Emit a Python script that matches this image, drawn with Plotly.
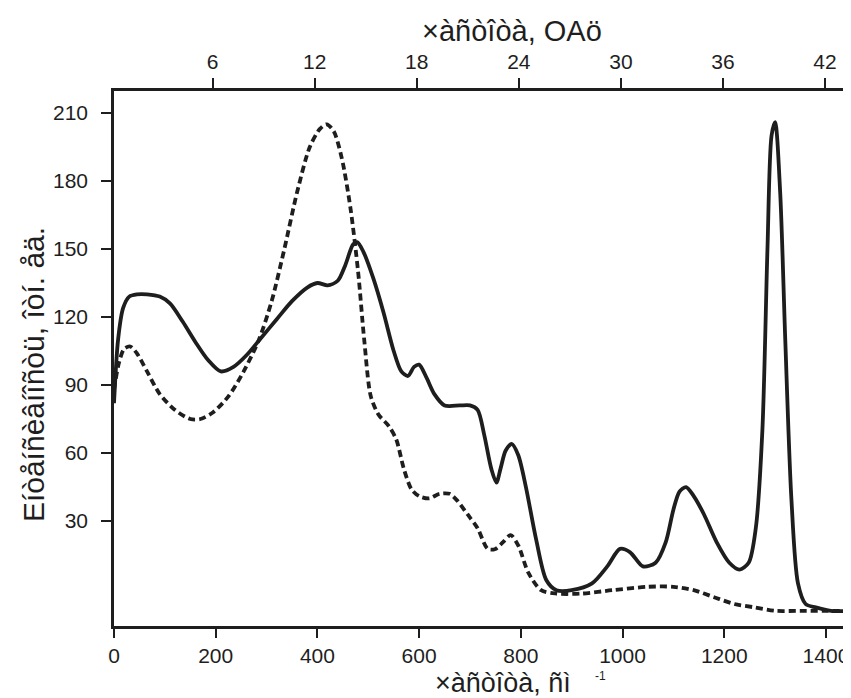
import plotly.graph_objects as go

# Wavenumber (cm^-1) and intensity samples for the solid curve
solid_x = [0, 8, 18, 30, 45, 65, 90, 110, 135, 160, 185, 210, 235, 260, 290, 320, 350, 380,
           400, 420, 440, 455, 470, 478, 490, 510, 530, 550, 565, 578, 590, 600, 615, 630,
           650, 680, 700, 715, 728, 742, 752, 760, 770, 782, 795, 810, 830, 850, 870, 900,
           940, 970, 995, 1015, 1040, 1065, 1085, 1100, 1112, 1125, 1140, 1160, 1185, 1210,
           1230, 1248, 1262, 1275, 1285, 1293, 1300, 1310, 1320, 1332, 1345, 1360, 1380, 1410, 1465]
solid_y = [82, 110, 124, 129, 130, 130, 129, 126, 118, 109, 101, 96, 98, 103, 111, 119, 127, 133,
           135, 134, 136, 143, 152, 153, 149, 137, 122, 105, 96, 94, 98, 99, 93, 86,
           81, 81, 81, 79, 68, 53, 47, 53, 61, 64, 59, 45, 22, 4, -0.5, -0.5,
           2.5, 10, 17.7, 16.2, 10, 11.6, 20.7, 35, 43, 45, 41, 33, 20.7, 11.6,
           8.6, 11.6, 26.8, 70, 150, 200, 206, 175, 110, 40, 2.5, -6.6, -8.1, -9.6, -9.6]

# Wavenumber (cm^-1) and intensity samples for the dashed curve
dashed_x = [0, 10, 20, 32, 45, 65, 90, 120, 150, 170, 195, 225, 255, 285, 310, 335, 360, 385,
            405, 418, 432, 448, 465, 480, 492, 505, 520, 540, 555, 570, 585, 600, 620, 640, 660,
            675, 695, 715, 735, 750, 765, 780, 795, 815, 840, 870, 920, 980, 1050, 1100, 1140,
            1180, 1220, 1260, 1300, 1350, 1400, 1465]
dashed_y = [88, 100, 106, 107, 104, 96, 86, 79, 75, 75, 78, 85, 96, 110, 127, 150, 175, 195,
            203, 205, 202, 190, 168, 140, 110, 85, 77, 72, 66, 53, 44, 41, 40, 42, 42,
            39, 33, 26.8, 17.7, 17.7, 20.7, 23.8, 19.2, 7.1, -0.5, -2, -2, -0.5, 1, 1, -0.5,
            -3.6, -6.6, -8.1, -9.6, -9.6, -9.6, -9.6]

x_ticks = [0, 200, 400, 600, 800, 1000, 1200, 1400]
thz_ticks = [6, 12, 18, 24, 30, 36, 42]
y_ticks = [30, 60, 90, 120, 150, 180, 210]

X_RANGE = [0, 1465]
THZ_RANGE = [0.2, 44.0]
Y_RANGE = [-16.3, 219.7]

ink = "#1e1e1e"
fig = go.Figure()
fig.add_trace(go.Scatter(x=solid_x, y=solid_y, mode="lines",
                         line=dict(color=ink, width=3.8, shape="spline", smoothing=0.8),
                         showlegend=False, hoverinfo="skip"))
fig.add_trace(go.Scatter(x=dashed_x, y=dashed_y, mode="lines",
                         line=dict(color=ink, width=3.8, dash="7px,4px", shape="spline", smoothing=0.8),
                         showlegend=False, hoverinfo="skip"))
# invisible trace anchoring the top THz axis
fig.add_trace(go.Scatter(x=THZ_RANGE, y=[None, None], xaxis="x2", mode="lines",
                         showlegend=False, hoverinfo="skip"))

font_main = "Liberation Sans, Arial, sans-serif"
axis_common = dict(ticks="outside", tickwidth=2, tickcolor=ink,
                   showline=True, linecolor=ink, linewidth=2.5,
                   showgrid=False, zeroline=False, tickfont=dict(size=21, color=ink))

fig.update_layout(
    width=851, height=698,
    margin=dict(l=106, r=0, t=83, b=80),
    paper_bgcolor="white", plot_bgcolor="white",
    font=dict(family=font_main, color=ink, size=21),
    xaxis=dict(range=X_RANGE, tickvals=x_ticks, ticktext=[str(v) for v in x_ticks],
               ticklen=9, ticklabelstandoff=0, **axis_common),
    xaxis2=dict(overlaying="x", side="top", range=THZ_RANGE,
                tickvals=thz_ticks, ticktext=[str(v) for v in thz_ticks],
                ticklen=10, ticklabelstandoff=1, **axis_common),
    yaxis=dict(range=Y_RANGE, tickvals=y_ticks, ticktext=[str(v) for v in y_ticks],
               ticklen=10, ticklabelstandoff=9, **axis_common),
    annotations=[
        dict(text="×àñòîòà, OAö", xref="paper", yref="paper", x=0.534, y=1.112,
             xanchor="center", yanchor="middle", showarrow=False, font=dict(size=29)),
        dict(text="×àñòîòà, ñì", xref="paper", yref="paper", x=0.522, y=-0.106,
             xanchor="center", yanchor="middle", showarrow=False, borderpad=0,
             font=dict(size=27)),
        dict(text="-1", xref="paper", yref="paper", x=0.6524, y=-0.093,
             xanchor="center", yanchor="middle", showarrow=False, borderpad=0,
             font=dict(size=12)),
        dict(text="Eíòåíñèâíîñòü, îòí. åä.", xref="paper", yref="paper", x=-0.1087, y=0.469,
             xanchor="center", yanchor="middle", textangle=-90, showarrow=False,
             font=dict(size=30)),
    ],
)

fig.write_html("out.html")
